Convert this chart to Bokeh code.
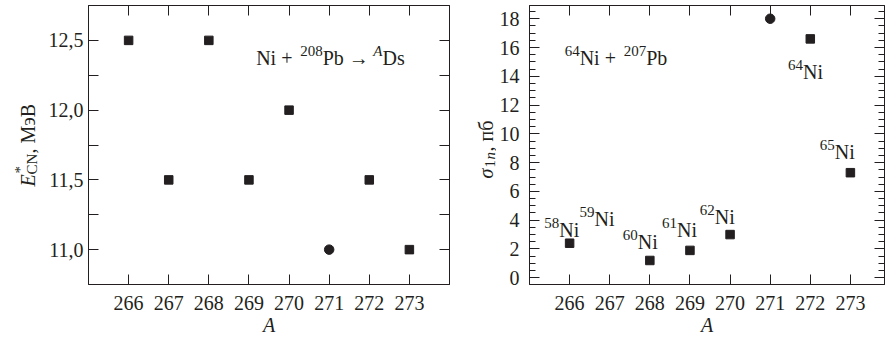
import math
from bokeh.plotting import figure
from bokeh.models import Label, FixedTicker, LinearAxis, Range1d
from bokeh.layouts import row
from bokeh.embed import file_html
from bokeh.resources import INLINE

# ---------------- data ----------------
A_left = [266, 267, 268, 269, 270, 271, 272, 273]
E_cn = [12.5, 11.5, 12.5, 11.5, 12.0, 11.0, 11.5, 11.0]
shape_left = ["s", "s", "s", "s", "s", "o", "s", "s"]

A_right = [266, 268, 269, 270, 271, 272, 273]
sigma_1n = [2.4, 1.2, 1.9, 3.0, 18.0, 16.6, 7.3]
shape_right = ["s", "s", "s", "s", "o", "s", "s"]

x_ticks = [266, 267, 268, 269, 270, 271, 272, 273]
x_tick_labels = ["266", "267", "268", "269", "270", "271", "272", "273"]
left_y_ticks = [11.0, 11.25, 11.5, 11.75, 12.0, 12.25, 12.5]
left_y_tick_labels = ["11,0", "", "11,5", "", "12,0", "", "12,5"]
right_y_ticks = [0, 2, 4, 6, 8, 10, 12, 14, 16, 18]
right_y_tick_labels = ["0", "2", "4", "6", "8", "10", "12", "14", "16", "18"]
right_y_minor = [0.5 * i for i in range(0, 38)]

proj_mass = ["58", "59", "60", "61", "62", "64", "65"]

# ---------------- style ----------------
INK = "#231f20"
FONT = "Liberation Serif"
FS = 20
FS_SMALL = 15
FRAME_H = 279
TOP = 5
BOTTOM = 52
TOTAL_H = TOP + FRAME_H + BOTTOM


def lab(p, x, y, text, size=FS, align="left", style="normal", dx=0, dy=0, angle=0.0):
    p.add_layout(Label(x=x, y=y, x_offset=dx, y_offset=dy, text=text,
                       text_font=FONT, text_font_size=f"{size}px",
                       text_font_style=style, text_align=align,
                       text_baseline="alphabetic", text_color=INK, angle=angle))


def sup_text(p, x, y, sup, main, sup_style="normal", rise=7):
    lab(p, x, y, sup, size=FS_SMALL, align="right", style=sup_style, dy=rise)
    lab(p, x, y, main, align="left")


def style_axis(ax, ticks, overrides, standoff, minor=None, minor_in=0, show_labels=True):
    ax.ticker = FixedTicker(ticks=ticks, minor_ticks=minor or [])
    ax.major_tick_in = 10
    ax.major_tick_out = 0
    ax.minor_tick_in = minor_in
    ax.minor_tick_out = 0
    ax.major_tick_line_color = INK
    ax.minor_tick_line_color = INK if minor else None
    ax.axis_line_color = INK
    ax.major_label_text_font = FONT
    ax.major_label_text_color = INK
    ax.major_label_standoff = standoff
    if show_labels:
        ax.major_label_text_font_size = f"{FS}px"
        ax.major_label_overrides = dict(zip(ticks, overrides))
    else:
        ax.major_label_text_font_size = "0px"
        ax.major_label_overrides = {t: "" for t in ticks}


def make_fig(xr, yr, fw, bl, br):
    p = figure(x_range=Range1d(*xr), y_range=Range1d(*yr),
               frame_width=fw, frame_height=FRAME_H,
               min_border_left=bl, min_border_right=br,
               min_border_top=TOP, min_border_bottom=BOTTOM,
               output_backend="svg", toolbar_location=None)
    p.xgrid.visible = False
    p.ygrid.visible = False
    p.outline_line_color = INK
    p.outline_line_alpha = 1.0
    p.outline_line_width = 1
    p.background_fill_color = "white"
    p.border_fill_color = "white"
    return p


def label_strip(width):
    # narrow figure holding a rotated, composed axis title (pixel coordinates)
    s = figure(x_range=Range1d(0, width), y_range=Range1d(0, TOTAL_H),
               frame_width=width, frame_height=TOTAL_H,
               min_border=0, x_axis_location=None, y_axis_location=None,
               output_backend="svg", toolbar_location=None)
    s.xgrid.visible = False
    s.ygrid.visible = False
    s.outline_line_color = None
    s.background_fill_color = "white"
    s.border_fill_color = "white"
    return s


def add_points(p, xs, ys, shapes):
    sx = [x for x, s in zip(xs, shapes) if s == "s"]
    sy = [y for y, s in zip(ys, shapes) if s == "s"]
    cx = [x for x, s in zip(xs, shapes) if s == "o"]
    cy = [y for y, s in zip(ys, shapes) if s == "o"]
    p.scatter(sx, sy, marker="square", size=8.5, fill_color=INK, line_color=INK)
    p.scatter(cx, cy, marker="circle", size=9.5, fill_color=INK, line_color=INK)


def style_xlabel(ax):
    ax.axis_label = "A"
    ax.axis_label_text_font = FONT
    ax.axis_label_text_font_style = "italic"
    ax.axis_label_text_font_size = f"{FS}px"
    ax.axis_label_text_color = INK
    ax.axis_label_standoff = 1


ang = math.pi / 2

# ---------------- left y-title strip ----------------
s1 = label_strip(40)
y0 = TOTAL_H - 181
lab(s1, 27, y0, "E", style="italic", angle=ang)
lab(s1, 27, y0, "*", size=FS_SMALL, dx=-8, dy=13, angle=ang)
lab(s1, 27, y0, "CN", size=FS_SMALL, dx=4, dy=12, angle=ang)
lab(s1, 27, y0, ", \u041c\u044d\u0412", dy=33, angle=ang)

# ---------------- left panel ----------------
p1 = make_fig((265, 274), (10.75, 12.75), 361, 48, 3)
style_axis(p1.xaxis[0], x_ticks, x_tick_labels, 11)
style_axis(p1.yaxis[0], left_y_ticks, left_y_tick_labels, 5)
style_xlabel(p1.xaxis[0])
top1 = LinearAxis()
style_axis(top1, x_ticks, x_tick_labels, 0, show_labels=False)
p1.add_layout(top1, "above")
right1 = LinearAxis()
style_axis(right1, left_y_ticks, left_y_tick_labels, 0, show_labels=False)
p1.add_layout(right1, "right")
add_points(p1, A_left, E_cn, shape_left)

# title: Ni + 208Pb -> ADs
lab(p1, 269.18, 12.376, "Ni + ")
sup_text(p1, 270.84, 12.376, "208", "Pb \u2192 ")
sup_text(p1, 272.33, 12.376, "A", "Ds", sup_style="italic")

# ---------------- right y-title strip ----------------
s2 = label_strip(44)
y1 = TOTAL_H - 173
lab(s2, 33, y1, "\u03c3", style="italic", angle=ang)
lab(s2, 33, y1, "1", size=FS_SMALL, dx=4, dy=11, angle=ang)
lab(s2, 33, y1, "n", size=FS_SMALL, style="italic", dx=4, dy=19, angle=ang)
lab(s2, 33, y1, ", \u043f\u0431", dy=27, angle=ang)

# ---------------- right panel ----------------
p2 = make_fig((265, 273.85), (-0.47, 18.92), 355, 30, 1)
style_axis(p2.xaxis[0], x_ticks, x_tick_labels, 11)
style_axis(p2.yaxis[0], right_y_ticks, right_y_tick_labels, 10, minor=right_y_minor, minor_in=6)
style_xlabel(p2.xaxis[0])
top2 = LinearAxis()
style_axis(top2, x_ticks, x_tick_labels, 0, show_labels=False)
p2.add_layout(top2, "above")
right2 = LinearAxis()
style_axis(right2, right_y_ticks, right_y_tick_labels, 0, minor=right_y_minor, minor_in=6, show_labels=False)
p2.add_layout(right2, "right")
add_points(p2, A_right, sigma_1n, shape_right)

# projectile labels
proj_pos = [(265.74, 3.29), (266.62, 4.10), (267.70, 2.47), (268.68, 3.33),
            (269.62, 4.21), (271.82, 14.29), (272.61, 8.73)]
for m, (x, y) in zip(proj_mass, proj_pos):
    sup_text(p2, x, y, m, "Ni")

# title: 64Ni + 207Pb
sup_text(p2, 266.25, 15.29, "64", "Ni + ")
sup_text(p2, 267.91, 15.29, "207", "Pb")

layout = row(s1, p1, s2, p2)
open("out.html", "w").write(file_html(layout, INLINE))
